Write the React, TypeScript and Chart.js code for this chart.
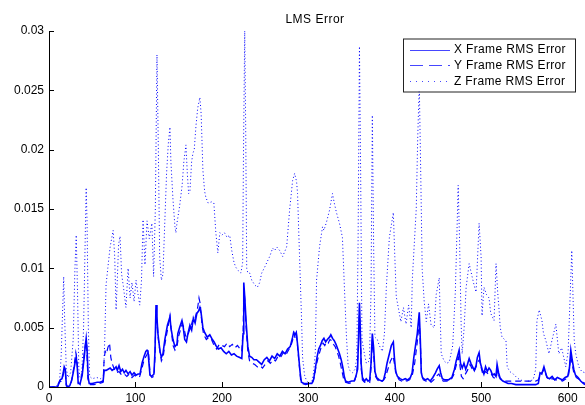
import React, { useEffect, useRef } from "react";
import { Chart, registerables } from "chart.js";

Chart.register(...registerables);

const chartTitle = "LMS Error";
const seriesLabels = ["X Frame RMS Error", "Y Frame RMS Error", "Z Frame RMS Error"];
const xTicks = [0, 100, 200, 300, 400, 500, 600];
const yTicks = [0, 0.005, 0.01, 0.015, 0.02, 0.025, 0.03];
const yTickLabels = ["0", "0.005", "0.01", "0.015", "0.02", "0.025", "0.03"];

// values below are in thousandths (×1e-3)
const xFrameX = [0, 10, 11, 13, 15, 16.5, 17.6, 18.8, 20, 21.5, 24, 26, 28, 30, 31.5, 32.6, 33.8, 36, 38.4, 40.7, 42, 43, 44, 45.3, 46.5, 50, 55.7, 59, 62.6, 63.8, 66, 68.4, 70.7, 73, 75, 77.6, 79, 81, 83, 85, 87, 89, 91.5, 93.8, 96, 98.4, 100.7, 103, 105.3, 107.6, 110, 112, 113.4, 114.5, 116.8, 119, 121.4, 122.6, 123.8, 124.9, 126, 128.4, 130, 131.8, 134, 137, 139.9, 141, 143.4, 145.7, 148, 149, 151, 153.8, 155, 157, 159, 160.7, 163, 165, 167, 169, 171, 173, 174.5, 176, 178, 180, 183, 186, 189, 191, 193, 196, 199, 202, 205, 208, 211, 214, 217, 220, 223, 224.5, 225.3, 226.5, 228, 230, 232, 234.5, 237, 240, 243, 246, 249, 252, 255, 258, 261, 264, 267, 270, 273, 276, 279, 281.8, 283, 284.5, 286, 287.5, 289, 290.5, 292, 295, 300, 304, 306, 308, 310, 312, 314, 316, 318, 320, 322, 324.5, 326, 328, 330, 332, 334, 336, 338, 340, 341.5, 343, 346, 350, 353, 355, 357, 358, 359.1, 360, 361, 362.5, 364.8, 367, 369, 371, 372.5, 374, 375.5, 377, 379, 382, 385, 387, 389, 391, 393.7, 396, 398.3, 399.5, 401, 403, 406, 409, 412, 415, 418, 420, 422, 424, 426, 428.3, 429.5, 430.6, 432, 435, 438, 441, 444, 447, 449, 451.4, 453, 455, 458, 462, 466, 469, 471, 473.3, 474.4, 476, 478, 480, 482, 484, 486, 488, 490, 492, 494, 495.5, 497.5, 499, 501, 503, 505, 507, 509, 511, 513, 515, 517, 518.3, 520, 522, 525, 528, 531, 535, 540, 545, 550, 556, 563, 566, 568, 570, 572.5, 574, 576, 579, 582, 585, 588, 591, 594, 597, 600, 602, 603.6, 605, 607, 609, 612, 615, 618, 620];
const xFrameY = [0, 0, 0.3, 0.6, 0.7, 1.2, 1.7, 1.5, 0.2, 0, 0.1, 0.5, 1.2, 2, 2.5, 1.8, 0.3, 0.3, 1.0, 2.5, 3.5, 4.1, 3.2, 0.8, 0.3, 0.3, 0.4, 0.4, 0.5, 1.4, 1.4, 1.5, 1.6, 1.4, 1.5, 1.7, 1.4, 1.8, 1.3, 1.5, 1.2, 1.4, 1.1, 1.3, 1.0, 1.2, 1.0, 1.1, 1.1, 2.0, 2.6, 3.0, 3.1, 3.0, 1.0, 0.9, 1.1, 3, 6.9, 5.8, 4.5, 3.0, 2.5, 2.8, 4.0, 5.2, 5.9, 5.0, 4.0, 3.4, 3.6, 4.5, 5.0, 5.6, 5.2, 4.0, 3.8, 4.5, 5.2, 4.8, 5.8, 5.4, 6.2, 6.4, 6.7, 6.2, 5.0, 4.6, 4.2, 4.4, 4.0, 3.8, 3.5, 3.2, 3.3, 3.0, 2.8, 3.0, 2.7, 2.8, 2.6, 2.5, 2.4, 4.5, 8.8, 7.5, 5.5, 3.4, 2.6, 2.5, 2.3, 2.3, 2.1, 1.9, 2.3, 2.5, 2.2, 2.6, 2.4, 2.8, 2.6, 3.0, 2.8, 3.2, 3.4, 4.2, 4.6, 4.4, 4.6, 3.6, 2.4, 1.2, 0.4, 0.3, 0.3, 0.3, 0.6, 1.5, 2.5, 3.2, 3.5, 3.9, 4.1, 3.8, 4.0, 4.2, 4.4, 4.1, 3.9, 3.6, 3.2, 2.8, 2.3, 1.6, 0.9, 0.5, 0.4, 0.5, 0.5, 0.9, 1.5, 4, 7.1, 5, 2, 0.8, 0.5, 0.7, 0.5, 0.6, 2, 4.5, 3.3, 1.3, 0.8, 0.6, 0.5, 0.6, 1.2, 2.0, 2.8, 3.5, 3.8, 2.5, 1.3, 0.9, 0.7, 0.6, 0.7, 0.6, 0.8, 1.2, 2.5, 3.5, 4.5, 6.3, 4, 1.2, 0.8, 0.6, 0.7, 0.5, 0.8, 1.2, 1.5, 1.8, 1.2, 0.7, 0.6, 0.6, 0.8, 1.5, 2.2, 2.8, 3.1, 2.0, 1.6, 2.0, 1.5, 1.9, 2.4, 2.0, 1.7, 1.4, 1.8, 2.5, 2.9, 2.0, 1.5, 1.1, 1.7, 1.3, 1.6, 1.4, 1.0, 1.1, 0.9, 1.9, 1.2, 0.7, 0.5, 0.4, 0.3, 0.3, 0.2, 0.2, 0.2, 0.2, 0.2, 0.3, 1.2, 1.1, 1.7, 1.3, 0.8, 0.7, 0.9, 0.6, 0.8, 0.7, 0.6, 0.8, 0.9, 1.6, 3.1, 2.4, 1.5, 1.0, 0.8, 0.5, 0.3, 0.2];

const yFrameX = [0, 10, 12, 14, 16, 17.6, 19, 20, 22, 25, 27, 29, 31, 32.5, 33.8, 36, 38.4, 40.7, 42.5, 43.5, 45, 47, 52, 58, 62.6, 63.8, 65, 66.5, 68, 70, 71.5, 73, 75, 78, 81, 84, 87, 90, 93, 96, 99, 102, 105, 107.6, 110, 113, 115, 117, 119, 121.4, 122.6, 123.8, 125, 126.5, 128.4, 130, 132, 134, 137, 139.9, 141.5, 143.4, 145.7, 148, 150, 152, 154, 156, 158, 160, 162, 164, 166, 168, 170, 172, 173.5, 175, 177, 179, 182, 185, 188, 191, 194, 197, 200, 203, 206, 209, 212, 215, 218, 221, 223, 224.5, 225.5, 226.8, 228, 230, 232, 235, 238, 241, 244, 247, 250, 253, 256, 259, 262, 265, 268, 271, 274, 277, 280, 282, 283.5, 285, 286.5, 288, 289.5, 291, 293, 297, 302, 305, 307, 309, 311, 313, 315, 317, 319, 321, 323, 325, 327, 329, 331, 333, 335, 337, 339, 341, 343, 347, 351, 354, 356, 357.8, 359.1, 360.2, 361.2, 362.5, 365, 368, 371, 372.5, 374, 375.5, 377, 380, 383, 386, 389, 392, 395, 398, 400, 402, 405, 408, 411, 414, 417, 420, 423, 426, 428.3, 429.8, 431, 433, 436, 439, 442, 445, 448, 451, 453, 456, 460, 465, 468, 471, 473.5, 475, 477, 479, 481, 484, 487, 489, 491, 493, 496, 498, 500, 502, 505, 508, 511, 514, 517, 519, 521, 524, 528, 533, 540, 548, 556, 563, 566, 568, 571, 573, 575, 578, 582, 586, 590, 594, 598, 601, 603.6, 605, 607, 610, 614, 618, 620];
const yFrameY = [0, 0, 0.4, 0.5, 0.9, 1.4, 1.2, 0.1, 0, 0.2, 0.8, 1.8, 2.9, 2.2, 0.4, 0.2, 1.2, 2.8, 3.8, 3.6, 0.7, 0.2, 0.2, 0.3, 0.4, 2.4, 3.0, 2.8, 3.3, 3.7, 2.5, 2.0, 1.6, 1.2, 1.3, 1.0, 1.1, 0.9, 1.1, 0.8, 1.0, 0.8, 0.9, 1.6, 2.3, 2.7, 3.0, 1.0, 0.8, 0.9, 2.5, 6.5, 5.5, 4.0, 3.0, 2.2, 2.5, 3.6, 4.8, 6.0, 4.8, 3.5, 3.1, 3.4, 4.3, 4.8, 5.3, 5.0, 4.3, 4.2, 4.7, 5.0, 5.6, 5.5, 6.1, 6.7, 7.5, 7.0, 5.2, 4.4, 4.0, 4.2, 4.0, 3.5, 3.2, 3.6, 3.5, 3.4, 3.7, 3.4, 3.6, 3.3, 3.5, 3.2, 3.0, 4.8, 8.3, 7.0, 5.0, 3.0, 2.2, 2.0, 1.9, 1.7, 1.8, 1.6, 1.9, 2.2, 2.0, 2.3, 2.2, 2.6, 2.5, 2.9, 2.7, 3.1, 3.5, 4.0, 4.5, 4.0, 4.3, 3.0, 1.8, 0.6, 0.3, 0.2, 0.3, 0.4, 0.9, 1.8, 2.4, 2.9, 3.4, 3.7, 3.5, 3.8, 3.7, 4.0, 3.9, 3.6, 3.4, 3.0, 2.6, 2.0, 1.3, 0.6, 0.4, 0.3, 0.4, 0.6, 1.2, 3.5, 6.5, 4.5, 1.5, 0.6, 0.4, 0.5, 0.4, 1.6, 4.0, 2.8, 1.0, 0.6, 0.4, 0.5, 0.8, 1.5, 2.2, 2.6, 1.8, 1.0, 0.6, 0.5, 0.6, 0.5, 0.6, 0.9, 2.0, 3.8, 5.5, 3.2, 1.0, 0.6, 0.5, 0.6, 0.4, 0.6, 0.9, 1.1, 0.8, 0.5, 0.5, 0.6, 1.0, 1.8, 2.5, 2.0, 0.9, 0.7, 1.0, 1.4, 1.9, 1.6, 1.3, 1.5, 2.1, 2.3, 1.6, 1.0, 1.3, 1.1, 1.2, 0.8, 0.7, 1.4, 0.8, 0.6, 0.5, 0.5, 0.5, 0.5, 0.5, 0.5, 0.6, 1.0, 1.3, 1.5, 1.0, 0.6, 0.7, 0.6, 0.6, 0.5, 0.7, 1.0, 2.6, 2.0, 1.2, 0.8, 0.6, 0.4, 0.3];

const zFrameX = [0, 8, 12, 14, 16, 17, 18, 20, 22, 25, 28, 30, 31.5, 33, 34.5, 36, 38, 40, 42, 43, 44, 45.5, 47, 50, 55, 60, 63, 64.5, 66, 68, 70.7, 74.2, 76, 77.6, 79, 80.5, 82.2, 84, 86, 89, 91.5, 93.8, 96, 98.4, 100.7, 103, 105, 107, 108.8, 110, 111, 113.4, 116, 119, 121, 123, 124.9, 126.5, 128, 130, 131.8, 134, 136, 138, 139.9, 141, 143.4, 145.7, 146.8, 148, 151, 154, 156, 158.4, 160, 161.5, 163, 165, 166.5, 168, 170, 172, 174.5, 176, 178, 180, 181.4, 184, 188, 190.7, 193, 195.3, 197.6, 200, 203, 206, 209, 211.4, 214, 216, 219, 222, 224, 225, 226.4, 227.5, 228.7, 230, 232.2, 234.5, 238, 241, 243.7, 246, 249.5, 252, 255.3, 258.7, 261, 263.4, 266.8, 270.3, 272, 274.9, 278.3, 281.8, 284.1, 286.4, 287.5, 289.8, 292.2, 293.3, 295.6, 298, 301, 304, 306, 308, 309.5, 312.9, 316.4, 318, 321, 324.5, 327.9, 330, 332.5, 336, 339.4, 341.7, 344.1, 346, 348, 351, 354, 356, 357.5, 359.1, 360.5, 362, 364.8, 367.1, 370.6, 372.5, 374, 375.5, 377, 379.8, 382, 385.6, 388, 390.2, 393.7, 398.3, 400, 401.7, 404, 407, 410, 413, 416, 419, 420.2, 424.8, 426.5, 428.3, 430, 431.7, 434, 436.4, 439, 442, 445.6, 447.9, 451.4, 452.5, 453.7, 457, 460, 463, 467, 470, 471.5, 473.3, 475, 476.7, 477.9, 480.2, 482.5, 486, 489.4, 492, 494, 497.5, 499.8, 500.9, 503.2, 506, 509, 511, 514.8, 517.1, 519, 520.6, 522, 524, 528.6, 530, 533, 537, 541, 545, 550, 555, 560, 563, 564.4, 567, 570.2, 572, 574.8, 578.3, 581.7, 586.3, 589.7, 593, 597.8, 600.5, 602.5, 604.7, 606, 607.5, 609.3, 612.8, 616.3, 620];
const zFrameY = [0, 0.05, 0.3, 2.5, 7, 9.3, 6, 1.5, 0.8, 1.2, 4, 10, 12.8, 8, 1.5, 0.8, 1.2, 5, 13, 16.8, 14, 5, 0.9, 0.7, 0.8, 0.7, 0.9, 4, 8.6, 10, 11.8, 13.2, 11, 6.5, 9, 12, 12.7, 9.5, 8.5, 6.7, 10.0, 7.5, 8.8, 7.2, 9.0, 7.8, 6.9, 9, 14.1, 12, 10.3, 14, 12.5, 13.8, 9.3, 15, 28, 20, 11, 9, 9.5, 14, 18, 20.5, 21.9, 19, 15.8, 13.5, 13, 13.8, 15.2, 17, 19, 20.4, 18, 16.3, 16.5, 19, 19.7, 20, 22, 23.5, 24.4, 23, 18.3, 16.5, 16, 15.5, 15.6, 15.5, 13, 11.3, 13, 12.8, 13, 12.6, 12.8, 11.5, 10.5, 10.1, 9.8, 9.6, 10.5, 20, 30, 22, 10, 9.6, 9.6, 9, 8.6, 8.4, 8.8, 9.6, 10.1, 10.5, 11, 11.7, 11.5, 11.8, 11.5, 11, 11.3, 11.8, 14.9, 17.4, 18, 17.3, 16.3, 11, 5.6, 2.5, 1, 0.5, 0.3, 0.4, 1.2, 2.8, 9, 11.8, 13.5, 13.2, 13.9, 14.9, 16.3, 15.5, 14.7, 13.8, 12.6, 8.4, 4.2, 1.8, 1.4, 1.2, 1.5, 2.5, 12, 28.7, 18, 4, 2.8, 2, 2.2, 8, 22.9, 12, 4.2, 4, 3.5, 3, 4.5, 8.4, 12.6, 14.7, 11, 7.6, 6.7, 5.5, 6.7, 5.3, 6.9, 5, 9, 15, 21, 25.5, 18, 9.9, 7.2, 5.5, 7, 5.2, 5, 7.8, 9.2, 6, 2.8, 2.2, 2, 2.1, 3.5, 8, 12, 17, 12, 5.4, 2.8, 5, 8.4, 10.4, 9.3, 8.5, 8, 13.8, 11, 6, 8.4, 7.8, 7.5, 6.2, 5.6, 10.4, 8, 6.5, 5, 4.2, 3.9, 1.7, 1.3, 1.1, 0.8, 0.6, 0.5, 0.5, 0.6, 1.5, 5.6, 6.5, 5.6, 4.5, 3.9, 2.8, 3.9, 5.3, 2.8, 3.3, 1.7, 3, 7, 11.5, 8, 4, 2.8, 1.7, 1.3, 1.2];

const lineColor = "rgb(0,0,255)";
const legendLineColor = "rgb(70,70,255)";
const FONT = "'Liberation Sans', Arial, Helvetica, sans-serif";

function toPoints(xs: number[], ys: number[]) {
  return xs.map((x, i) => ({ x, y: ys[i] * 1e-3 }));
}

const dashes = [[], [6, 4], [1, 2.5]];
const legendDashes = [[], [13, 6], [1, 5]];

const decorPlugin = {
  id: "decor",
  afterDraw(chart: any) {
    const { ctx, chartArea, scales } = chart;
    const xs = scales.x;
    const ys = scales.y;
    ctx.save();
    ctx.strokeStyle = "#000";
    ctx.lineWidth = 1;
    ctx.beginPath();
    yTicks.forEach((v) => {
      const py = Math.round(ys.getPixelForValue(v)) + 0.5;
      ctx.moveTo(chartArea.left, py);
      ctx.lineTo(chartArea.left + 5, py);
    });
    xTicks.forEach((v) => {
      const px = Math.round(xs.getPixelForValue(v)) + 0.5;
      ctx.moveTo(px, chartArea.bottom);
      ctx.lineTo(px, chartArea.bottom - 5);
    });
    ctx.stroke();

    ctx.fillStyle = "#000";
    ctx.font = `12px ${FONT}`;
    ctx.textAlign = "center";
    ctx.textBaseline = "middle";
    (ctx as any).letterSpacing = "0.5px";
    ctx.fillText(chartTitle, (chartArea.left + chartArea.right) / 2 - 2, 20);

    const boxL = 403, boxT = 38.5, boxW = 172, boxH = 53;
    ctx.fillStyle = "#fff";
    ctx.fillRect(boxL, boxT, boxW, boxH);
    ctx.strokeStyle = "#222";
    ctx.strokeRect(boxL + 0.5, boxT + 0.5, boxW, boxH);
    chart.data.datasets.forEach((ds: any, i: number) => {
      const cy = 49.5 + i * 15.7;
      ctx.strokeStyle = legendLineColor;
      ctx.lineWidth = 1;
      ctx.setLineDash(legendDashes[i]);
      ctx.beginPath();
      ctx.moveTo(410, Math.round(cy) + 0.5);
      ctx.lineTo(450, Math.round(cy) + 0.5);
      ctx.stroke();
      ctx.setLineDash([]);
      ctx.fillStyle = "#000";
      ctx.textAlign = "left";
      ctx.textBaseline = "middle";
      ctx.font = `12px ${FONT}`;
      (ctx as any).letterSpacing = "0.35px";
      ctx.fillText(ds.label, 454, cy + 0.5);
    });
    (ctx as any).letterSpacing = "0px";
    ctx.restore();
  },
};

export default function App() {
  const ref = useRef<HTMLCanvasElement | null>(null);
  useEffect(() => {
    if (!ref.current) return;
    const series = [
      toPoints(xFrameX, xFrameY),
      toPoints(yFrameX, yFrameY),
      toPoints(zFrameX, zFrameY),
    ];
    const chart = new Chart(ref.current, {
      type: "line",
      data: {
        datasets: series.map((d, i) => ({
          label: seriesLabels[i],
          data: d,
          borderColor: lineColor,
          borderWidth: i === 0 ? 1.6 : i === 1 ? 1.2 : 1,
          borderDash: dashes[i],
          pointRadius: 0,
          tension: 0,
          fill: false,
        })),
      },
      options: {
        animation: false,
        responsive: false,
        devicePixelRatio: 1,
        layout: { padding: { top: 31, right: 0, left: 0, bottom: 0 } },
        plugins: { legend: { display: false }, title: { display: false }, tooltip: { enabled: false } },
        scales: {
          x: {
            type: "linear",
            min: 0,
            max: 620,
            grid: { display: false, drawTicks: false },
            border: { display: true, color: "#000", width: 1 },
            afterBuildTicks: (s: any) => {
              s.ticks = xTicks.map((v) => ({ value: v }));
            },
            afterFit: (s: any) => {
              s.height = 18;
            },
            ticks: {
              padding: 4,
              color: "#000",
              font: { family: FONT, size: 12 },
              maxRotation: 0,
              callback: (v: any) => String(v),
            },
          },
          y: {
            type: "linear",
            min: 0,
            max: 0.03,
            grid: { display: false, drawTicks: false },
            border: { display: true, color: "#000", width: 1 },
            afterBuildTicks: (s: any) => {
              s.ticks = yTicks.map((v) => ({ value: v }));
            },
            afterFit: (s: any) => {
              s.width = 49;
            },
            ticks: {
              padding: 5,
              color: "#000",
              font: { family: FONT, size: 12 },
              callback: (v: any) => {
                const idx = yTicks.findIndex((t) => Math.abs(t - v) < 1e-9);
                return idx >= 0 ? yTickLabels[idx] : "";
              },
            },
          },
        },
      },
      plugins: [decorPlugin],
    } as any);
    return () => chart.destroy();
  }, []);
  return (
    <div style={{ position: "absolute", left: 0, top: 0, width: 585, height: 405, background: "#fff" }}>
      <canvas ref={ref} width={585} height={405} style={{ width: 585, height: 405, display: "block" }} />
    </div>
  );
}
